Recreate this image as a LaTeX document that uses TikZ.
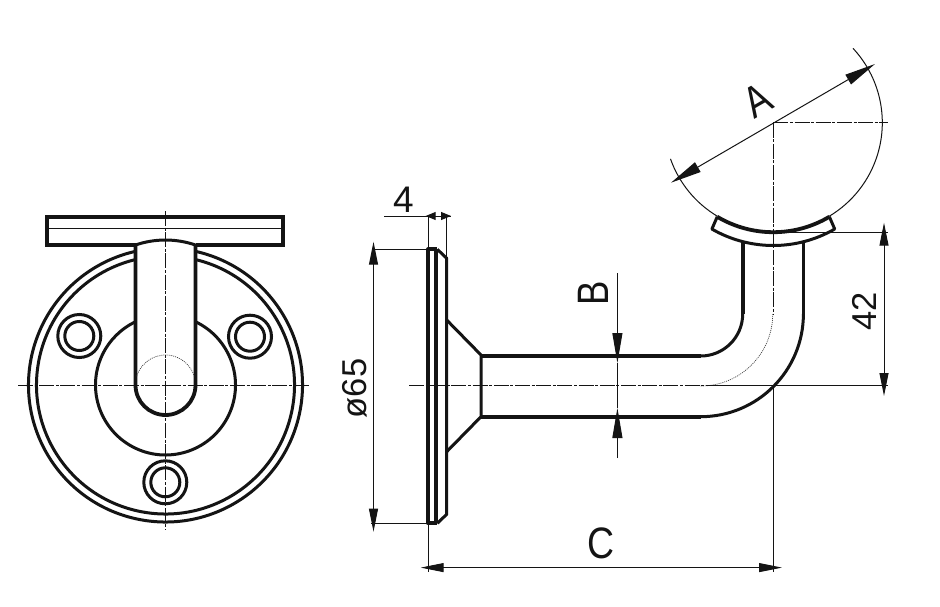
\documentclass[tikz,border=0pt]{standalone}
\usepackage{fontspec}
\setmainfont{Liberation Sans}
\usetikzlibrary{arrows.meta}
\tikzset{
  heavy/.style={line width=3.8pt,line cap=butt},
  medium/.style={line width=3pt},
  thin/.style={line width=1pt},
  axis/.style={line width=1pt,dash pattern=on 15pt off 1.6pt on 3pt off 1.6pt},
  dotline/.style={line width=0.7pt,dash pattern=on 1pt off 1pt,black!75},
  dimc/.style={line width=1pt,{Triangle[length=23pt,width=9pt]}-{Triangle[length=23pt,width=9pt]}},
  dimb/.style={line width=1pt,{Triangle[length=31pt,width=11pt]}-{Triangle[length=31pt,width=11pt]}},
  tipb/.style={line width=1pt,-{Triangle[length=30pt,width=10pt]}},
  dims/.style={line width=1pt,{Triangle[length=10pt,width=8pt]}-{Triangle[length=10pt,width=8pt]}},
  letter/.style={inner sep=0pt,font=\fontsize{44}{44}\selectfont},
  digits/.style={inner sep=0pt,font=\fontsize{34.5}{34.5}\selectfont},
}
\begin{document}
\begin{tikzpicture}[x=1pt,y=1pt,yscale=-1,color=black!92]
\useasboundingbox[fill=white] (0,0) rectangle (940,607);
% ---------- front view ----------
\coordinate (f) at (165.5,385);
\draw[medium] ([shift={(-77.35:137)}]f) arc[start angle=-77.35,end angle=257.35,radius=137];
\draw[medium] ([shift={(-76.6:129)}]f) arc[start angle=-76.6,end angle=256.6,radius=129];
\draw[medium] ([shift={(-64.6:70)}]f) arc[start angle=-64.6,end angle=244.6,radius=70];
\draw[heavy,line join=miter] (135.5,245) -- (47.3,245) -- (47.3,217.3) -- (282.7,217.3) -- (282.7,245) -- (195.5,245);
\draw[thin] (49,228.3) -- (281,228.3);
\draw[medium] (135.5,245) arc[start angle=251.1,end angle=288.9,radius=92.5];
\foreach \n/\x/\y in {hl/79.3/336,hr/250/336.7,hb/165.3/482.3}{
  \coordinate (\n) at (\x,\y);
  \draw[medium] (\n) circle[radius=21.5];
  \draw[medium] (\n) circle[radius=14.5];
}
\draw[heavy] (195.5,244) -- (195.5,385) arc[start angle=0,end angle=180,radius=30] -- (135.5,244);
\draw[dotline] ([shift={(197:30)}]f) arc[start angle=197,end angle=343,radius=30];
\draw[axis] (18,385) -- (310,385);
\draw[axis] (165.5,211) -- (165.5,530);
% ---------- side view: flange ----------
\draw[heavy,line join=round] (437.3,249.3) -- (428.3,249.3) -- (428.3,523.3) -- (437.3,523.3);
\draw[heavy] (436,249.3) -- (436,523.3);
\draw[medium,line join=round] (437.3,249.3) -- (446.7,258.3) -- (446.7,514.3) -- (437.3,523.3);
\draw[medium] (446.7,320) -- (481,355) -- (481,416.7) -- (446.7,451.7);
% tube
\coordinate (bend) at (700.7,314);
\draw[heavy] (480,356) -- (700.7,356);
\draw[heavy] (480,416.7) -- (700.7,416.7);
\draw[medium] (700.7,356) arc[start angle=90,end angle=0,radius=42];
\draw[medium] (700.7,416.7) arc[start angle=90,end angle=0,radius=102.7];
\draw[dotline] (700.7,386) arc[start angle=90,end angle=0,radius=72];
\draw[heavy] (742.7,314) -- (742.7,243);
\draw[heavy] (803.4,314) -- (803.4,243);
% handrail and saddle
\coordinate (c) at (773.3,122.7);
\draw[thin] ([shift={(-43:109)}]c) arc[start angle=-43,end angle=59.2,radius=109];
\draw[thin] ([shift={(120.8:109)}]c) arc[start angle=120.8,end angle=160.6,radius=109];
\draw[heavy] ([shift={(59.2:109.5)}]c) arc[start angle=59.2,end angle=120.8,radius=109.5];
\draw[medium,line join=round] ([shift={(59.2:109.5)}]c) -- ([shift={(60:122.8)}]c) arc[start angle=60,end angle=120,radius=122.8] -- ([shift={(120.8:109.5)}]c);
% axes of side view
\draw[axis] (409,385.7) -- (716,385.7);
\draw[thin] (716,385.7) -- (888,385.7);
\draw[axis] (c) -- (773.3,314);
\draw[axis] (c) -- (888,122.7);
% ---------- dimensions ----------
\coordinate (a1) at (875,64);
\coordinate (a2) at (671,182.7);
\draw[dimb] (a2) -- (a1);
\node[letter,rotate=30] (labelA) at (757,100) {\scalebox{.83}[1]{A}};
% phi 65
\coordinate (p1) at (373.5,241.7);
\coordinate (p2) at (373.5,531.7);
\draw[thin] (428,249.3) -- (375,249.3);
\draw[thin] (428,523.3) -- (371,523.3);
\draw[dimc] (p1) -- (p2);
\node[digits,rotate=90] (labelD) at (355,388.5) {ø65};
% 4
\coordinate (q1) at (384,216);
\coordinate (q2) at (425.7,216);
\coordinate (q3) at (451,216);
\draw[thin] (q1) -- (q3);
\draw[dims] (q2) -- (q3);
\draw[thin] (428.3,216) -- (428.3,249);
\draw[thin] (446.5,216) -- (446.5,258);
\node[inner sep=0pt,font=\fontsize{37}{37}\selectfont] (label4) at (403.5,200) {4};
% C
\coordinate (r1) at (420.7,567.6);
\coordinate (r2) at (782,567.6);
\draw[thin] (428.3,523) -- (428.3,572);
\draw[thin] (773.3,385.7) -- (773.3,572);
\draw[dimc] (r1) -- (r2);
\node[letter] (labelC) at (600.5,543) {\scalebox{.85}[1]{C}};
% 42
\coordinate (s1) at (884,222.7);
\coordinate (s2) at (884,396);
\draw[thin] (773.3,232.5) -- (888,232.5);
\draw[dimc] (s1) -- (s2);
\node[digits,rotate=90] (label42) at (864,311) {42};
% B
\coordinate (b1) at (617.4,273);
\coordinate (b2) at (617.4,363);
\coordinate (b3) at (617.4,458);
\coordinate (b4) at (617.4,408);
\draw[tipb] (b1) -- (b2);
\draw[tipb] (b3) -- (b4);
\draw[thin] (b2) -- (b4);
\node[letter,rotate=90] (labelB) at (593,293) {\scalebox{.83}[1]{B}};
\end{tikzpicture}
\end{document}
